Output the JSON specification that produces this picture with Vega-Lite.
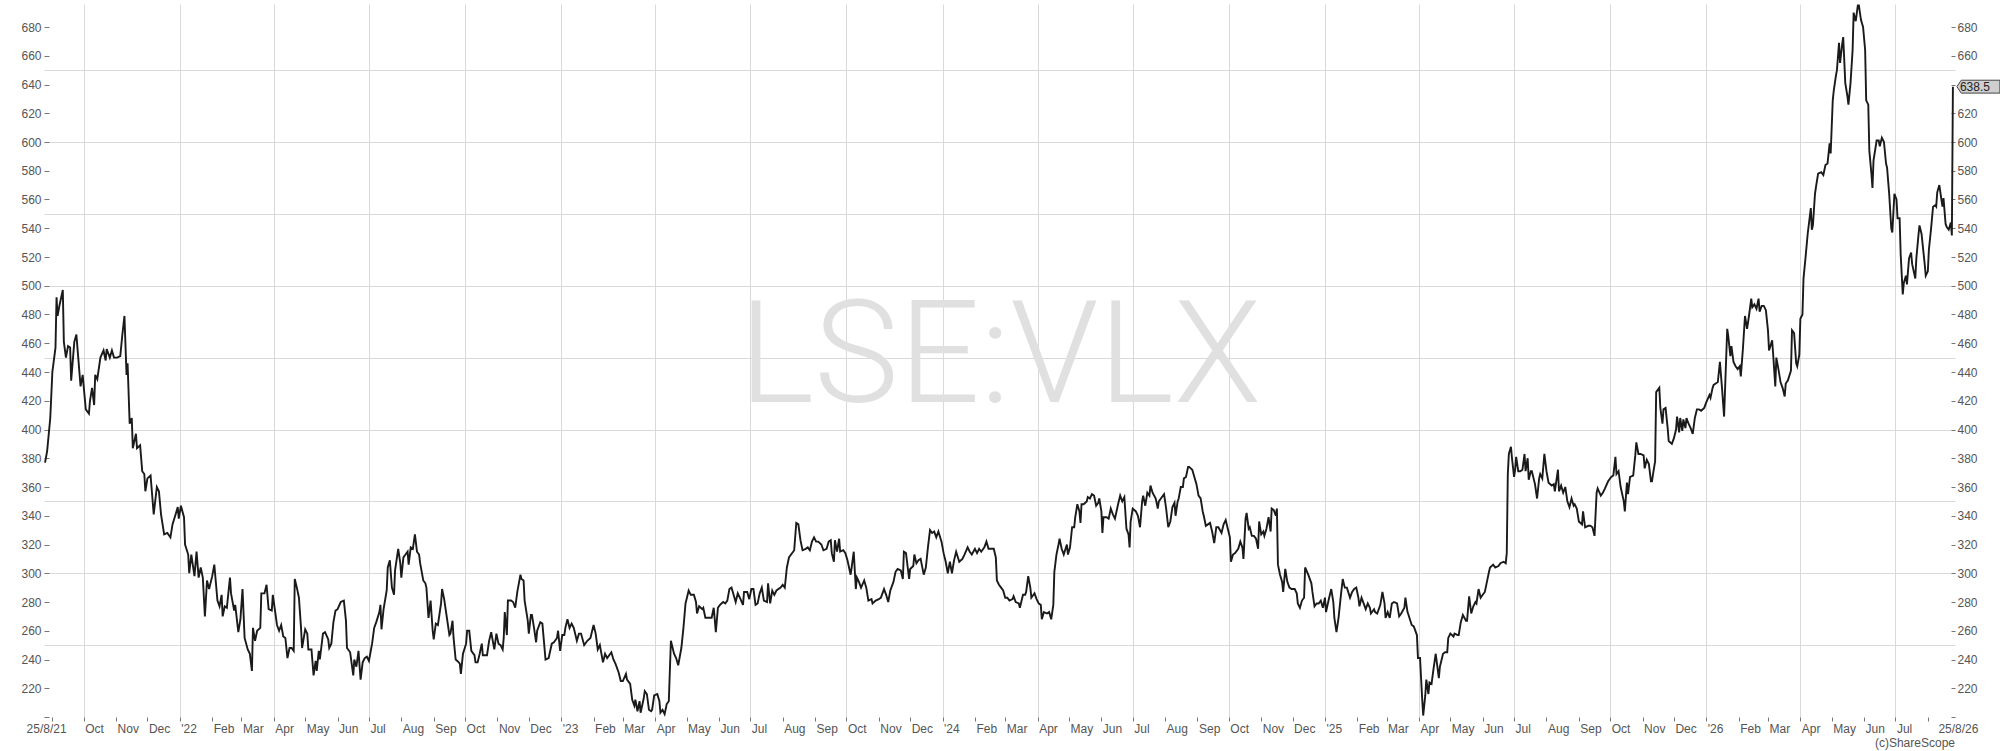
{
"$schema":"https://vega.github.io/schema/vega-lite/v6.json",
"width":1911,"height":713,
"autosize":{"type":"none"},
"padding":{"left":44,"top":4,"right":45,"bottom":34},
"background":"white",
"config":{"view":{"stroke":null},"font":"Liberation Sans"},
"title":{"text":"(c)ShareScope","orient":"bottom","anchor":"end","frame":"group","fontSize":12,"fontWeight":"normal","color":"#555555","font":"Liberation Sans","offset":4},
"datasets":{
"last":[{"d":"2026-08-25","v":638.5}],
"price":[
{"d":"2021-08-25","v":377},{"d":"2021-08-27","v":385},{"d":"2021-08-30","v":408},{"d":"2021-09-01","v":440},{"d":"2021-09-04","v":457},{"d":"2021-09-05","v":492},{"d":"2021-09-06","v":479},{"d":"2021-09-08","v":487},{"d":"2021-09-11","v":497},{"d":"2021-09-12","v":461},{"d":"2021-09-14","v":450},{"d":"2021-09-16","v":458},{"d":"2021-09-18","v":457},{"d":"2021-09-19","v":434},{"d":"2021-09-22","v":461},{"d":"2021-09-24","v":466},{"d":"2021-09-26","v":448},{"d":"2021-09-28","v":430},{"d":"2021-09-30","v":438},
{"d":"2021-10-03","v":414},{"d":"2021-10-06","v":411},{"d":"2021-10-07","v":420},{"d":"2021-10-09","v":429},{"d":"2021-10-11","v":417},{"d":"2021-10-12","v":438},{"d":"2021-10-14","v":435},{"d":"2021-10-17","v":450},{"d":"2021-10-20","v":455},{"d":"2021-10-22","v":448},{"d":"2021-10-23","v":456},{"d":"2021-10-26","v":450},{"d":"2021-10-28","v":455},{"d":"2021-10-30","v":450},
{"d":"2021-11-02","v":450},{"d":"2021-11-05","v":451},{"d":"2021-11-07","v":466},{"d":"2021-11-09","v":479},{"d":"2021-11-11","v":438},{"d":"2021-11-12","v":446},{"d":"2021-11-14","v":404},{"d":"2021-11-16","v":408},{"d":"2021-11-17","v":387},{"d":"2021-11-20","v":397},{"d":"2021-11-21","v":387},{"d":"2021-11-24","v":389},{"d":"2021-11-26","v":371},{"d":"2021-11-28","v":369},{"d":"2021-11-29","v":357},
{"d":"2021-12-01","v":366},{"d":"2021-12-04","v":368},{"d":"2021-12-07","v":341},{"d":"2021-12-10","v":360},{"d":"2021-12-12","v":357},{"d":"2021-12-14","v":341},{"d":"2021-12-17","v":327},{"d":"2021-12-20","v":328},{"d":"2021-12-23","v":325},{"d":"2021-12-25","v":334},{"d":"2021-12-28","v":341},{"d":"2021-12-30","v":346},{"d":"2021-12-31","v":338},
{"d":"2022-01-02","v":347},{"d":"2022-01-05","v":339},{"d":"2022-01-06","v":320},{"d":"2022-01-09","v":313},{"d":"2022-01-10","v":300},{"d":"2022-01-12","v":313},{"d":"2022-01-15","v":298},{"d":"2022-01-17","v":315},{"d":"2022-01-19","v":297},{"d":"2022-01-21","v":304},{"d":"2022-01-23","v":297},{"d":"2022-01-25","v":270},{"d":"2022-01-27","v":295},{"d":"2022-01-29","v":289},
{"d":"2022-02-01","v":298},{"d":"2022-02-03","v":306},{"d":"2022-02-06","v":281},{"d":"2022-02-08","v":277},{"d":"2022-02-10","v":285},{"d":"2022-02-11","v":270},{"d":"2022-02-13","v":277},{"d":"2022-02-15","v":276},{"d":"2022-02-18","v":297},{"d":"2022-02-19","v":286},{"d":"2022-02-22","v":274},{"d":"2022-02-23","v":278},{"d":"2022-02-26","v":259},{"d":"2022-02-28","v":268},
{"d":"2022-03-02","v":289},{"d":"2022-03-04","v":255},{"d":"2022-03-07","v":247},{"d":"2022-03-09","v":244},{"d":"2022-03-11","v":232},{"d":"2022-03-12","v":262},{"d":"2022-03-14","v":253},{"d":"2022-03-16","v":260},{"d":"2022-03-19","v":262},{"d":"2022-03-20","v":286},{"d":"2022-03-23","v":286},{"d":"2022-03-25","v":292},{"d":"2022-03-27","v":275},{"d":"2022-03-30","v":274},{"d":"2022-03-31","v":285},
{"d":"2022-04-04","v":264},{"d":"2022-04-06","v":260},{"d":"2022-04-08","v":264},{"d":"2022-04-10","v":256},{"d":"2022-04-12","v":255},{"d":"2022-04-14","v":241},{"d":"2022-04-16","v":248},{"d":"2022-04-18","v":248},{"d":"2022-04-20","v":246},{"d":"2022-04-21","v":296},{"d":"2022-04-23","v":290},{"d":"2022-04-25","v":283},{"d":"2022-04-27","v":262},{"d":"2022-04-28","v":248},
{"d":"2022-05-01","v":261},{"d":"2022-05-03","v":258},{"d":"2022-05-04","v":247},{"d":"2022-05-07","v":247},{"d":"2022-05-09","v":229},{"d":"2022-05-11","v":239},{"d":"2022-05-12","v":232},{"d":"2022-05-14","v":246},{"d":"2022-05-15","v":240},{"d":"2022-05-18","v":258},{"d":"2022-05-20","v":259},{"d":"2022-05-23","v":254},{"d":"2022-05-24","v":248},{"d":"2022-05-26","v":251},{"d":"2022-05-28","v":266},{"d":"2022-05-30","v":274},
{"d":"2022-06-01","v":275},{"d":"2022-06-04","v":280},{"d":"2022-06-07","v":281},{"d":"2022-06-09","v":267},{"d":"2022-06-10","v":248},{"d":"2022-06-13","v":245},{"d":"2022-06-16","v":229},{"d":"2022-06-17","v":240},{"d":"2022-06-19","v":235},{"d":"2022-06-21","v":246},{"d":"2022-06-23","v":226},{"d":"2022-06-25","v":238},{"d":"2022-06-27","v":241},{"d":"2022-06-29","v":242},{"d":"2022-07-01","v":239},
{"d":"2022-07-04","v":251},{"d":"2022-07-06","v":262},{"d":"2022-07-08","v":266},{"d":"2022-07-11","v":273},{"d":"2022-07-12","v":278},{"d":"2022-07-13","v":261},{"d":"2022-07-15","v":275},{"d":"2022-07-18","v":288},{"d":"2022-07-19","v":304},{"d":"2022-07-21","v":309},{"d":"2022-07-23","v":290},{"d":"2022-07-25","v":285},{"d":"2022-07-26","v":302},{"d":"2022-07-29","v":317},{"d":"2022-07-31","v":307},
{"d":"2022-08-01","v":297},{"d":"2022-08-03","v":311},{"d":"2022-08-05","v":313},{"d":"2022-08-07","v":315},{"d":"2022-08-08","v":306},{"d":"2022-08-10","v":318},{"d":"2022-08-12","v":317},{"d":"2022-08-14","v":327},{"d":"2022-08-16","v":315},{"d":"2022-08-18","v":313},{"d":"2022-08-19","v":307},{"d":"2022-08-22","v":295},{"d":"2022-08-24","v":293},{"d":"2022-08-25","v":290},{"d":"2022-08-27","v":269},{"d":"2022-08-29","v":281},{"d":"2022-08-31","v":260},
{"d":"2022-09-01","v":254},{"d":"2022-09-03","v":265},{"d":"2022-09-05","v":264},{"d":"2022-09-08","v":279},{"d":"2022-09-09","v":289},{"d":"2022-09-11","v":282},{"d":"2022-09-13","v":272},{"d":"2022-09-16","v":257},{"d":"2022-09-17","v":258},{"d":"2022-09-19","v":267},{"d":"2022-09-20","v":255},{"d":"2022-09-22","v":240},{"d":"2022-09-25","v":238},{"d":"2022-09-26","v":237},{"d":"2022-09-27","v":230},{"d":"2022-09-29","v":244},
{"d":"2022-10-02","v":251},{"d":"2022-10-03","v":260},{"d":"2022-10-05","v":260},{"d":"2022-10-07","v":246},{"d":"2022-10-10","v":243},{"d":"2022-10-11","v":238},{"d":"2022-10-13","v":238},{"d":"2022-10-15","v":244},{"d":"2022-10-17","v":251},{"d":"2022-10-18","v":243},{"d":"2022-10-22","v":243},{"d":"2022-10-24","v":253},{"d":"2022-10-26","v":259},{"d":"2022-10-27","v":255},{"d":"2022-10-29","v":247},{"d":"2022-10-31","v":258},
{"d":"2022-11-02","v":251},{"d":"2022-11-04","v":250},{"d":"2022-11-06","v":247},{"d":"2022-11-07","v":255},{"d":"2022-11-08","v":273},{"d":"2022-11-10","v":257},{"d":"2022-11-11","v":281},{"d":"2022-11-14","v":281},{"d":"2022-11-16","v":280},{"d":"2022-11-18","v":276},{"d":"2022-11-20","v":287},{"d":"2022-11-23","v":299},{"d":"2022-11-24","v":296},{"d":"2022-11-26","v":295},{"d":"2022-11-27","v":281},{"d":"2022-11-30","v":267},
{"d":"2022-12-01","v":258},{"d":"2022-12-03","v":271},{"d":"2022-12-04","v":271},{"d":"2022-12-06","v":262},{"d":"2022-12-08","v":252},{"d":"2022-12-09","v":260},{"d":"2022-12-12","v":266},{"d":"2022-12-14","v":265},{"d":"2022-12-17","v":240},{"d":"2022-12-20","v":241},{"d":"2022-12-23","v":251},{"d":"2022-12-25","v":252},{"d":"2022-12-28","v":255},{"d":"2022-12-29","v":260},{"d":"2022-12-31","v":246},
{"d":"2023-01-02","v":257},{"d":"2023-01-04","v":257},{"d":"2023-01-05","v":262},{"d":"2023-01-07","v":268},{"d":"2023-01-09","v":262},{"d":"2023-01-11","v":265},{"d":"2023-01-13","v":262},{"d":"2023-01-16","v":253},{"d":"2023-01-18","v":258},{"d":"2023-01-20","v":258},{"d":"2023-01-23","v":250},{"d":"2023-01-26","v":253},{"d":"2023-01-29","v":255},
{"d":"2023-02-01","v":264},{"d":"2023-02-03","v":258},{"d":"2023-02-05","v":247},{"d":"2023-02-07","v":250},{"d":"2023-02-10","v":238},{"d":"2023-02-12","v":244},{"d":"2023-02-14","v":241},{"d":"2023-02-18","v":245},{"d":"2023-02-20","v":240},{"d":"2023-02-22","v":237},{"d":"2023-02-25","v":231},{"d":"2023-02-27","v":225},
{"d":"2023-03-01","v":225},{"d":"2023-03-04","v":230},{"d":"2023-03-05","v":226},{"d":"2023-03-08","v":223},{"d":"2023-03-10","v":212},{"d":"2023-03-12","v":208},{"d":"2023-03-13","v":212},{"d":"2023-03-15","v":204},{"d":"2023-03-17","v":211},{"d":"2023-03-18","v":203},{"d":"2023-03-21","v":213},{"d":"2023-03-22","v":218},{"d":"2023-03-24","v":216},{"d":"2023-03-26","v":205},{"d":"2023-03-28","v":204},{"d":"2023-03-29","v":205},{"d":"2023-03-31","v":215},
{"d":"2023-04-03","v":216},{"d":"2023-04-05","v":211},{"d":"2023-04-06","v":203},{"d":"2023-04-08","v":205},{"d":"2023-04-10","v":202},{"d":"2023-04-12","v":209},{"d":"2023-04-14","v":211},{"d":"2023-04-16","v":253},{"d":"2023-04-19","v":244},{"d":"2023-04-21","v":241},{"d":"2023-04-23","v":236},{"d":"2023-04-26","v":248},{"d":"2023-04-28","v":262},{"d":"2023-04-30","v":279},
{"d":"2023-05-03","v":288},{"d":"2023-05-05","v":285},{"d":"2023-05-08","v":285},{"d":"2023-05-10","v":280},{"d":"2023-05-11","v":272},{"d":"2023-05-13","v":277},{"d":"2023-05-16","v":275},{"d":"2023-05-17","v":276},{"d":"2023-05-19","v":269},{"d":"2023-05-22","v":269},{"d":"2023-05-25","v":269},{"d":"2023-05-27","v":276},{"d":"2023-05-29","v":259},{"d":"2023-05-31","v":276},
{"d":"2023-06-02","v":278},{"d":"2023-06-05","v":280},{"d":"2023-06-07","v":279},{"d":"2023-06-09","v":281},{"d":"2023-06-11","v":289},{"d":"2023-06-13","v":290},{"d":"2023-06-15","v":285},{"d":"2023-06-17","v":280},{"d":"2023-06-19","v":286},{"d":"2023-06-21","v":283},{"d":"2023-06-24","v":278},{"d":"2023-06-25","v":287},{"d":"2023-06-28","v":287},{"d":"2023-06-30","v":282},
{"d":"2023-07-02","v":289},{"d":"2023-07-04","v":289},{"d":"2023-07-06","v":278},{"d":"2023-07-08","v":279},{"d":"2023-07-10","v":286},{"d":"2023-07-12","v":290},{"d":"2023-07-14","v":281},{"d":"2023-07-17","v":280},{"d":"2023-07-18","v":293},{"d":"2023-07-20","v":279},{"d":"2023-07-22","v":288},{"d":"2023-07-24","v":285},{"d":"2023-07-26","v":288},{"d":"2023-07-30","v":290},
{"d":"2023-08-01","v":292},{"d":"2023-08-03","v":290},{"d":"2023-08-05","v":304},{"d":"2023-08-07","v":311},{"d":"2023-08-09","v":313},{"d":"2023-08-11","v":315},{"d":"2023-08-12","v":316},{"d":"2023-08-14","v":335},{"d":"2023-08-16","v":334},{"d":"2023-08-18","v":323},{"d":"2023-08-20","v":316},{"d":"2023-08-23","v":317},{"d":"2023-08-25","v":318},{"d":"2023-08-27","v":316},{"d":"2023-08-29","v":322},{"d":"2023-08-31","v":325},
{"d":"2023-09-02","v":322},{"d":"2023-09-04","v":322},{"d":"2023-09-07","v":320},{"d":"2023-09-09","v":316},{"d":"2023-09-12","v":317},{"d":"2023-09-14","v":322},{"d":"2023-09-16","v":323},{"d":"2023-09-17","v":314},{"d":"2023-09-19","v":308},{"d":"2023-09-20","v":323},{"d":"2023-09-22","v":315},{"d":"2023-09-24","v":324},{"d":"2023-09-25","v":315},{"d":"2023-09-28","v":316},{"d":"2023-09-30","v":314},
{"d":"2023-10-02","v":309},{"d":"2023-10-05","v":299},{"d":"2023-10-06","v":304},{"d":"2023-10-08","v":315},{"d":"2023-10-10","v":289},{"d":"2023-10-11","v":297},{"d":"2023-10-13","v":294},{"d":"2023-10-15","v":290},{"d":"2023-10-18","v":295},{"d":"2023-10-20","v":290},{"d":"2023-10-22","v":281},{"d":"2023-10-25","v":282},{"d":"2023-10-26","v":279},{"d":"2023-10-29","v":281},
{"d":"2023-11-01","v":282},{"d":"2023-11-03","v":283},{"d":"2023-11-06","v":289},{"d":"2023-11-08","v":285},{"d":"2023-11-10","v":280},{"d":"2023-11-12","v":288},{"d":"2023-11-15","v":294},{"d":"2023-11-17","v":301},{"d":"2023-11-19","v":303},{"d":"2023-11-22","v":302},{"d":"2023-11-24","v":296},{"d":"2023-11-25","v":315},{"d":"2023-11-27","v":314},{"d":"2023-11-30","v":296},
{"d":"2023-12-01","v":303},{"d":"2023-12-04","v":305},{"d":"2023-12-05","v":313},{"d":"2023-12-07","v":307},{"d":"2023-12-09","v":309},{"d":"2023-12-11","v":310},{"d":"2023-12-14","v":299},{"d":"2023-12-16","v":304},{"d":"2023-12-18","v":318},{"d":"2023-12-20","v":330},{"d":"2023-12-22","v":328},{"d":"2023-12-24","v":329},{"d":"2023-12-26","v":325},{"d":"2023-12-28","v":329},{"d":"2023-12-31","v":322},
{"d":"2024-01-02","v":314},{"d":"2024-01-04","v":308},{"d":"2024-01-06","v":300},{"d":"2024-01-08","v":308},{"d":"2024-01-10","v":300},{"d":"2024-01-12","v":309},{"d":"2024-01-14","v":315},{"d":"2024-01-17","v":308},{"d":"2024-01-20","v":310},{"d":"2024-01-22","v":313},{"d":"2024-01-25","v":318},{"d":"2024-01-27","v":315},{"d":"2024-01-29","v":313},
{"d":"2024-02-01","v":317},{"d":"2024-02-03","v":314},{"d":"2024-02-05","v":317},{"d":"2024-02-07","v":315},{"d":"2024-02-10","v":318},{"d":"2024-02-12","v":322},{"d":"2024-02-14","v":317},{"d":"2024-02-17","v":317},{"d":"2024-02-19","v":317},{"d":"2024-02-21","v":311},{"d":"2024-02-22","v":295},{"d":"2024-02-24","v":292},{"d":"2024-02-26","v":290},{"d":"2024-02-28","v":288},
{"d":"2024-03-01","v":283},{"d":"2024-03-03","v":283},{"d":"2024-03-05","v":281},{"d":"2024-03-08","v":282},{"d":"2024-03-09","v":284},{"d":"2024-03-11","v":280},{"d":"2024-03-14","v":279},{"d":"2024-03-15","v":276},{"d":"2024-03-18","v":285},{"d":"2024-03-20","v":285},{"d":"2024-03-21","v":287},{"d":"2024-03-23","v":298},{"d":"2024-03-25","v":290},{"d":"2024-03-26","v":283},{"d":"2024-03-28","v":285},{"d":"2024-03-29","v":286},{"d":"2024-03-31","v":282},
{"d":"2024-04-02","v":279},{"d":"2024-04-04","v":278},{"d":"2024-04-05","v":268},{"d":"2024-04-07","v":273},{"d":"2024-04-10","v":272},{"d":"2024-04-12","v":273},{"d":"2024-04-14","v":268},{"d":"2024-04-16","v":278},{"d":"2024-04-17","v":301},{"d":"2024-04-19","v":313},{"d":"2024-04-21","v":320},{"d":"2024-04-22","v":324},{"d":"2024-04-24","v":317},{"d":"2024-04-26","v":313},{"d":"2024-04-29","v":320},{"d":"2024-04-30","v":313},
{"d":"2024-05-02","v":318},{"d":"2024-05-04","v":332},{"d":"2024-05-06","v":332},{"d":"2024-05-07","v":339},{"d":"2024-05-09","v":348},{"d":"2024-05-11","v":343},{"d":"2024-05-12","v":335},{"d":"2024-05-13","v":348},{"d":"2024-05-15","v":348},{"d":"2024-05-18","v":350},{"d":"2024-05-19","v":353},{"d":"2024-05-21","v":352},{"d":"2024-05-23","v":355},{"d":"2024-05-25","v":354},{"d":"2024-05-27","v":347},{"d":"2024-05-29","v":349},{"d":"2024-05-30","v":352},
{"d":"2024-06-01","v":343},{"d":"2024-06-02","v":328},{"d":"2024-06-03","v":339},{"d":"2024-06-06","v":339},{"d":"2024-06-08","v":338},{"d":"2024-06-10","v":345},{"d":"2024-06-12","v":341},{"d":"2024-06-14","v":338},{"d":"2024-06-17","v":348},{"d":"2024-06-19","v":354},{"d":"2024-06-21","v":350},{"d":"2024-06-23","v":353},{"d":"2024-06-25","v":331},{"d":"2024-06-27","v":327},{"d":"2024-06-28","v":318},{"d":"2024-06-29","v":336},
{"d":"2024-07-01","v":345},{"d":"2024-07-04","v":343},{"d":"2024-07-06","v":340},{"d":"2024-07-08","v":332},{"d":"2024-07-10","v":350},{"d":"2024-07-11","v":354},{"d":"2024-07-13","v":347},{"d":"2024-07-15","v":356},{"d":"2024-07-17","v":354},{"d":"2024-07-18","v":361},{"d":"2024-07-20","v":356},{"d":"2024-07-23","v":352},{"d":"2024-07-25","v":345},{"d":"2024-07-26","v":350},{"d":"2024-07-29","v":353},{"d":"2024-07-31","v":355},
{"d":"2024-08-02","v":345},{"d":"2024-08-04","v":332},{"d":"2024-08-06","v":336},{"d":"2024-08-08","v":346},{"d":"2024-08-10","v":349},{"d":"2024-08-11","v":340},{"d":"2024-08-13","v":350},{"d":"2024-08-14","v":352},{"d":"2024-08-16","v":360},{"d":"2024-08-18","v":360},{"d":"2024-08-19","v":366},{"d":"2024-08-21","v":367},{"d":"2024-08-23","v":374},{"d":"2024-08-24","v":374},{"d":"2024-08-27","v":372},{"d":"2024-08-29","v":367},{"d":"2024-08-31","v":362},
{"d":"2024-09-02","v":354},{"d":"2024-09-04","v":352},{"d":"2024-09-06","v":343},{"d":"2024-09-07","v":340},{"d":"2024-09-09","v":333},{"d":"2024-09-11","v":334},{"d":"2024-09-13","v":335},{"d":"2024-09-15","v":329},{"d":"2024-09-17","v":321},{"d":"2024-09-19","v":332},{"d":"2024-09-21","v":332},{"d":"2024-09-24","v":328},{"d":"2024-09-26","v":334},{"d":"2024-09-28","v":337},{"d":"2024-09-30","v":331},
{"d":"2024-10-02","v":325},{"d":"2024-10-03","v":308},{"d":"2024-10-05","v":313},{"d":"2024-10-07","v":314},{"d":"2024-10-10","v":317},{"d":"2024-10-12","v":322},{"d":"2024-10-14","v":318},{"d":"2024-10-15","v":310},{"d":"2024-10-17","v":338},{"d":"2024-10-18","v":342},{"d":"2024-10-20","v":331},{"d":"2024-10-21","v":332},{"d":"2024-10-23","v":326},{"d":"2024-10-25","v":326},{"d":"2024-10-27","v":324},{"d":"2024-10-29","v":317},{"d":"2024-10-30","v":336},
{"d":"2024-11-01","v":327},{"d":"2024-11-03","v":329},{"d":"2024-11-04","v":326},{"d":"2024-11-06","v":331},{"d":"2024-11-08","v":339},{"d":"2024-11-10","v":329},{"d":"2024-11-11","v":345},{"d":"2024-11-13","v":344},{"d":"2024-11-15","v":340},{"d":"2024-11-16","v":345},{"d":"2024-11-17","v":306},{"d":"2024-11-19","v":299},{"d":"2024-11-21","v":294},{"d":"2024-11-22","v":287},{"d":"2024-11-24","v":303},{"d":"2024-11-26","v":294},{"d":"2024-11-28","v":290},{"d":"2024-11-30","v":289},
{"d":"2024-12-03","v":289},{"d":"2024-12-05","v":286},{"d":"2024-12-06","v":279},{"d":"2024-12-08","v":276},{"d":"2024-12-10","v":281},{"d":"2024-12-12","v":283},{"d":"2024-12-13","v":304},{"d":"2024-12-16","v":299},{"d":"2024-12-19","v":293},{"d":"2024-12-20","v":287},{"d":"2024-12-22","v":277},{"d":"2024-12-24","v":279},{"d":"2024-12-26","v":279},{"d":"2024-12-28","v":281},{"d":"2024-12-30","v":276},
{"d":"2025-01-01","v":283},{"d":"2025-01-02","v":273},{"d":"2025-01-05","v":283},{"d":"2025-01-07","v":289},{"d":"2025-01-09","v":280},{"d":"2025-01-10","v":269},{"d":"2025-01-12","v":259},{"d":"2025-01-14","v":269},{"d":"2025-01-16","v":283},{"d":"2025-01-18","v":296},{"d":"2025-01-20","v":290},{"d":"2025-01-22","v":290},{"d":"2025-01-25","v":283},{"d":"2025-01-27","v":287},{"d":"2025-01-29","v":289},{"d":"2025-01-31","v":290},
{"d":"2025-02-02","v":283},{"d":"2025-02-03","v":277},{"d":"2025-02-05","v":283},{"d":"2025-02-07","v":279},{"d":"2025-02-09","v":275},{"d":"2025-02-11","v":279},{"d":"2025-02-13","v":276},{"d":"2025-02-14","v":272},{"d":"2025-02-17","v":275},{"d":"2025-02-18","v":273},{"d":"2025-02-20","v":272},{"d":"2025-02-23","v":278},{"d":"2025-02-25","v":287},{"d":"2025-02-27","v":279},{"d":"2025-02-28","v":269},
{"d":"2025-03-02","v":273},{"d":"2025-03-04","v":269},{"d":"2025-03-06","v":279},{"d":"2025-03-08","v":280},{"d":"2025-03-11","v":279},{"d":"2025-03-13","v":270},{"d":"2025-03-15","v":272},{"d":"2025-03-18","v":276},{"d":"2025-03-19","v":283},{"d":"2025-03-21","v":273},{"d":"2025-03-22","v":271},{"d":"2025-03-25","v":264},{"d":"2025-03-27","v":263},{"d":"2025-03-30","v":257},{"d":"2025-03-31","v":241},
{"d":"2025-04-02","v":241},{"d":"2025-04-03","v":227},{"d":"2025-04-04","v":213},{"d":"2025-04-05","v":201},{"d":"2025-04-07","v":215},{"d":"2025-04-08","v":226},{"d":"2025-04-10","v":216},{"d":"2025-04-11","v":224},{"d":"2025-04-13","v":223},{"d":"2025-04-15","v":234},{"d":"2025-04-17","v":244},{"d":"2025-04-20","v":227},{"d":"2025-04-21","v":235},{"d":"2025-04-24","v":244},{"d":"2025-04-26","v":245},{"d":"2025-04-28","v":245},{"d":"2025-04-29","v":255},
{"d":"2025-05-01","v":258},{"d":"2025-05-04","v":256},{"d":"2025-05-05","v":258},{"d":"2025-05-08","v":257},{"d":"2025-05-09","v":257},{"d":"2025-05-11","v":266},{"d":"2025-05-13","v":271},{"d":"2025-05-16","v":267},{"d":"2025-05-17","v":267},{"d":"2025-05-19","v":284},{"d":"2025-05-21","v":272},{"d":"2025-05-23","v":277},{"d":"2025-05-25","v":280},{"d":"2025-05-26","v":279},{"d":"2025-05-28","v":289},{"d":"2025-05-30","v":283},
{"d":"2025-06-01","v":285},{"d":"2025-06-03","v":287},{"d":"2025-06-05","v":294},{"d":"2025-06-07","v":301},{"d":"2025-06-08","v":304},{"d":"2025-06-11","v":306},{"d":"2025-06-13","v":304},{"d":"2025-06-16","v":305},{"d":"2025-06-18","v":307},{"d":"2025-06-21","v":308},{"d":"2025-06-23","v":307},{"d":"2025-06-24","v":314},{"d":"2025-06-25","v":369},{"d":"2025-06-26","v":383},{"d":"2025-06-28","v":388},{"d":"2025-06-29","v":380},
{"d":"2025-07-01","v":367},{"d":"2025-07-02","v":372},{"d":"2025-07-03","v":381},{"d":"2025-07-05","v":371},{"d":"2025-07-07","v":371},{"d":"2025-07-09","v":372},{"d":"2025-07-11","v":383},{"d":"2025-07-12","v":371},{"d":"2025-07-14","v":380},{"d":"2025-07-15","v":365},{"d":"2025-07-17","v":371},{"d":"2025-07-18","v":371},{"d":"2025-07-21","v":362},{"d":"2025-07-23","v":352},{"d":"2025-07-25","v":366},{"d":"2025-07-26","v":369},{"d":"2025-07-28","v":366},{"d":"2025-07-30","v":383},
{"d":"2025-08-01","v":371},{"d":"2025-08-03","v":363},{"d":"2025-08-06","v":361},{"d":"2025-08-08","v":362},{"d":"2025-08-09","v":357},{"d":"2025-08-12","v":372},{"d":"2025-08-13","v":357},{"d":"2025-08-15","v":361},{"d":"2025-08-17","v":356},{"d":"2025-08-19","v":360},{"d":"2025-08-21","v":350},{"d":"2025-08-23","v":346},{"d":"2025-08-25","v":352},{"d":"2025-08-27","v":347},{"d":"2025-08-28","v":348},{"d":"2025-08-30","v":345},
{"d":"2025-09-01","v":336},{"d":"2025-09-04","v":334},{"d":"2025-09-05","v":343},{"d":"2025-09-07","v":332},{"d":"2025-09-10","v":333},{"d":"2025-09-12","v":333},{"d":"2025-09-14","v":332},{"d":"2025-09-16","v":326},{"d":"2025-09-18","v":356},{"d":"2025-09-19","v":359},{"d":"2025-09-22","v":354},{"d":"2025-09-24","v":356},{"d":"2025-09-26","v":359},{"d":"2025-09-29","v":364},
{"d":"2025-10-02","v":367},{"d":"2025-10-04","v":368},{"d":"2025-10-06","v":381},{"d":"2025-10-07","v":369},{"d":"2025-10-09","v":371},{"d":"2025-10-11","v":360},{"d":"2025-10-14","v":350},{"d":"2025-10-15","v":343},{"d":"2025-10-17","v":363},{"d":"2025-10-18","v":355},{"d":"2025-10-20","v":367},{"d":"2025-10-23","v":368},{"d":"2025-10-25","v":382},{"d":"2025-10-26","v":391},{"d":"2025-10-28","v":383},{"d":"2025-10-30","v":383},
{"d":"2025-11-02","v":382},{"d":"2025-11-03","v":373},{"d":"2025-11-05","v":379},{"d":"2025-11-07","v":376},{"d":"2025-11-09","v":364},{"d":"2025-11-10","v":364},{"d":"2025-11-11","v":369},{"d":"2025-11-13","v":378},{"d":"2025-11-14","v":426},{"d":"2025-11-17","v":429},{"d":"2025-11-18","v":415},{"d":"2025-11-20","v":404},{"d":"2025-11-21","v":414},{"d":"2025-11-23","v":415},{"d":"2025-11-25","v":401},{"d":"2025-11-26","v":392},{"d":"2025-11-29","v":390},
{"d":"2025-12-01","v":394},{"d":"2025-12-03","v":400},{"d":"2025-12-04","v":409},{"d":"2025-12-06","v":398},{"d":"2025-12-07","v":408},{"d":"2025-12-09","v":399},{"d":"2025-12-10","v":407},{"d":"2025-12-12","v":401},{"d":"2025-12-13","v":408},{"d":"2025-12-15","v":404},{"d":"2025-12-17","v":401},{"d":"2025-12-19","v":397},{"d":"2025-12-21","v":408},{"d":"2025-12-23","v":414},{"d":"2025-12-25","v":414},{"d":"2025-12-27","v":413},{"d":"2025-12-30","v":415},
{"d":"2026-01-01","v":419},{"d":"2026-01-04","v":424},{"d":"2026-01-05","v":422},{"d":"2026-01-07","v":429},{"d":"2026-01-08","v":431},{"d":"2026-01-10","v":432},{"d":"2026-01-12","v":433},{"d":"2026-01-14","v":447},{"d":"2026-01-16","v":429},{"d":"2026-01-18","v":409},{"d":"2026-01-21","v":470},{"d":"2026-01-22","v":465},{"d":"2026-01-24","v":451},{"d":"2026-01-25","v":458},{"d":"2026-01-27","v":447},{"d":"2026-01-29","v":444},{"d":"2026-01-31","v":442},
{"d":"2026-02-02","v":444},{"d":"2026-02-03","v":437},{"d":"2026-02-05","v":456},{"d":"2026-02-07","v":479},{"d":"2026-02-09","v":470},{"d":"2026-02-11","v":480},{"d":"2026-02-13","v":491},{"d":"2026-02-14","v":485},{"d":"2026-02-16","v":487},{"d":"2026-02-18","v":484},{"d":"2026-02-20","v":491},{"d":"2026-02-21","v":482},{"d":"2026-02-23","v":486},{"d":"2026-02-25","v":486},{"d":"2026-02-27","v":483},
{"d":"2026-03-01","v":469},{"d":"2026-03-02","v":455},{"d":"2026-03-05","v":462},{"d":"2026-03-06","v":452},{"d":"2026-03-08","v":430},{"d":"2026-03-09","v":450},{"d":"2026-03-11","v":442},{"d":"2026-03-13","v":433},{"d":"2026-03-15","v":429},{"d":"2026-03-17","v":423},{"d":"2026-03-18","v":432},{"d":"2026-03-20","v":434},{"d":"2026-03-23","v":441},{"d":"2026-03-24","v":469},{"d":"2026-03-26","v":467},{"d":"2026-03-28","v":446},{"d":"2026-03-29","v":444},{"d":"2026-03-31","v":452},
{"d":"2026-04-01","v":477},{"d":"2026-04-03","v":480},{"d":"2026-04-04","v":505},{"d":"2026-04-06","v":520},{"d":"2026-04-08","v":536},{"d":"2026-04-11","v":554},{"d":"2026-04-12","v":539},{"d":"2026-04-13","v":542},{"d":"2026-04-15","v":564},{"d":"2026-04-16","v":569},{"d":"2026-04-18","v":578},{"d":"2026-04-21","v":579},{"d":"2026-04-23","v":577},{"d":"2026-04-25","v":584},{"d":"2026-04-27","v":585},{"d":"2026-04-29","v":599},{"d":"2026-04-30","v":592},
{"d":"2026-05-02","v":629},{"d":"2026-05-03","v":636},{"d":"2026-05-05","v":646},{"d":"2026-05-06","v":650},{"d":"2026-05-08","v":669},{"d":"2026-05-09","v":655},{"d":"2026-05-11","v":668},{"d":"2026-05-12","v":673},{"d":"2026-05-14","v":641},{"d":"2026-05-16","v":632},{"d":"2026-05-17","v":626},{"d":"2026-05-19","v":641},{"d":"2026-05-21","v":664},{"d":"2026-05-22","v":690},{"d":"2026-05-24","v":684},{"d":"2026-05-26","v":695},{"d":"2026-05-27","v":695},{"d":"2026-05-29","v":685},{"d":"2026-05-31","v":680},
{"d":"2026-06-02","v":664},{"d":"2026-06-03","v":629},{"d":"2026-06-05","v":626},{"d":"2026-06-06","v":594},{"d":"2026-06-08","v":578},{"d":"2026-06-09","v":568},{"d":"2026-06-10","v":587},{"d":"2026-06-13","v":601},{"d":"2026-06-15","v":601},{"d":"2026-06-16","v":597},{"d":"2026-06-18","v":603},{"d":"2026-06-20","v":600},{"d":"2026-06-22","v":585},{"d":"2026-06-23","v":582},{"d":"2026-06-25","v":564},{"d":"2026-06-27","v":540},{"d":"2026-06-28","v":537},{"d":"2026-06-30","v":564},
{"d":"2026-07-02","v":560},{"d":"2026-07-03","v":547},{"d":"2026-07-05","v":547},{"d":"2026-07-06","v":522},{"d":"2026-07-08","v":494},{"d":"2026-07-09","v":502},{"d":"2026-07-11","v":507},{"d":"2026-07-12","v":501},{"d":"2026-07-14","v":519},{"d":"2026-07-16","v":523},{"d":"2026-07-17","v":515},{"d":"2026-07-20","v":505},{"d":"2026-07-21","v":519},{"d":"2026-07-23","v":535},{"d":"2026-07-24","v":542},{"d":"2026-07-26","v":536},{"d":"2026-07-27","v":529},{"d":"2026-07-29","v":515},{"d":"2026-07-30","v":507},
{"d":"2026-08-01","v":510},{"d":"2026-08-02","v":525},{"d":"2026-08-04","v":539},{"d":"2026-08-06","v":555},{"d":"2026-08-08","v":556},{"d":"2026-08-09","v":555},{"d":"2026-08-10","v":565},{"d":"2026-08-12","v":570},{"d":"2026-08-14","v":560},{"d":"2026-08-15","v":555},{"d":"2026-08-16","v":561},{"d":"2026-08-18","v":543},{"d":"2026-08-19","v":541},{"d":"2026-08-21","v":539},{"d":"2026-08-23","v":544},{"d":"2026-08-24","v":535},{"d":"2026-08-25","v":638.5}
]},
"layer":[
{"data":{"values":[{}]},
 "mark":{"type":"text","text":"LSE:VLX","font":"Roboto","fontWeight":300,"fontSize":143,"color":"#e0e0e0","align":"center","baseline":"alphabetic"},
 "encoding":{
  "x":{"datum":{"year":2024,"month":2,"date":25},"type":"temporal","scale":{"domain":[{"year":2021,"month":8,"date":24},{"year":2026,"month":8,"date":27}]},
   "axis":{"orient":"bottom","title":null,"domain":false,"tickSize":4,"tickColor":"#777777","labelColor":"#555555","labelFont":"Liberation Sans","labelFontSize":12,"labelPadding":2,"labelOverlap":false,"labelBound":false,"labelFlush":false,"labelBaseline":"top",
    "labelAlign":{"condition":{"test":"date(datum.value)==25","value":"center"},"value":"left"},
    "labelOffset":{"condition":{"test":"date(datum.value)==25 && year(datum.value)==2026","value":5},"value":1},
    "tickOpacity":{"condition":{"test":"date(datum.value)==25","value":0},"value":1},
    "grid":true,"gridColor":"#d9d9d9","gridWidth":1,
    "gridOpacity":{"condition":{"test":"month(datum.value)%3==0 && date(datum.value)==1","value":1},"value":0},
    "labelExpr":"date(datum.value)==25 ? timeFormat(datum.value,'%-d/%-m/%y') : ((year(datum.value)==2021 && month(datum.value)==8) || (year(datum.value)==2026 && month(datum.value)==7)) ? '' : month(datum.value)==0 ? \"'\" + timeFormat(datum.value,'%y') : timeFormat(datum.value,'%b')",
    "values":[{"year":2021,"month":8,"date":25},{"year":2021,"month":9,"date":1},{"year":2021,"month":10,"date":1},{"year":2021,"month":11,"date":1},{"year":2021,"month":12,"date":1},
     {"year":2022,"month":1,"date":1},{"year":2022,"month":2,"date":1},{"year":2022,"month":3,"date":1},{"year":2022,"month":4,"date":1},{"year":2022,"month":5,"date":1},{"year":2022,"month":6,"date":1},{"year":2022,"month":7,"date":1},{"year":2022,"month":8,"date":1},{"year":2022,"month":9,"date":1},{"year":2022,"month":10,"date":1},{"year":2022,"month":11,"date":1},{"year":2022,"month":12,"date":1},
     {"year":2023,"month":1,"date":1},{"year":2023,"month":2,"date":1},{"year":2023,"month":3,"date":1},{"year":2023,"month":4,"date":1},{"year":2023,"month":5,"date":1},{"year":2023,"month":6,"date":1},{"year":2023,"month":7,"date":1},{"year":2023,"month":8,"date":1},{"year":2023,"month":9,"date":1},{"year":2023,"month":10,"date":1},{"year":2023,"month":11,"date":1},{"year":2023,"month":12,"date":1},
     {"year":2024,"month":1,"date":1},{"year":2024,"month":2,"date":1},{"year":2024,"month":3,"date":1},{"year":2024,"month":4,"date":1},{"year":2024,"month":5,"date":1},{"year":2024,"month":6,"date":1},{"year":2024,"month":7,"date":1},{"year":2024,"month":8,"date":1},{"year":2024,"month":9,"date":1},{"year":2024,"month":10,"date":1},{"year":2024,"month":11,"date":1},{"year":2024,"month":12,"date":1},
     {"year":2025,"month":1,"date":1},{"year":2025,"month":2,"date":1},{"year":2025,"month":3,"date":1},{"year":2025,"month":4,"date":1},{"year":2025,"month":5,"date":1},{"year":2025,"month":6,"date":1},{"year":2025,"month":7,"date":1},{"year":2025,"month":8,"date":1},{"year":2025,"month":9,"date":1},{"year":2025,"month":10,"date":1},{"year":2025,"month":11,"date":1},{"year":2025,"month":12,"date":1},
     {"year":2026,"month":1,"date":1},{"year":2026,"month":2,"date":1},{"year":2026,"month":3,"date":1},{"year":2026,"month":4,"date":1},{"year":2026,"month":5,"date":1},{"year":2026,"month":6,"date":1},{"year":2026,"month":7,"date":1},{"year":2026,"month":8,"date":1},{"year":2026,"month":8,"date":25}]}},
  "y":{"datum":419,"type":"quantitative","scale":{"domain":[200,696],"nice":false,"zero":false},"axis":null}
 }},
{"encoding":{
  "x":{"field":"d","type":"temporal","scale":{"domain":[{"year":2021,"month":8,"date":24},{"year":2026,"month":8,"date":27}]},
   "axis":{"orient":"bottom","title":null,"domain":false,"tickSize":4,"tickColor":"#777777","labelColor":"#555555","labelFont":"Liberation Sans","labelFontSize":12,"labelPadding":2,"labelOverlap":false,"labelBound":false,"labelFlush":false,"labelBaseline":"top",
    "labelAlign":{"condition":{"test":"date(datum.value)==25","value":"center"},"value":"left"},
    "labelOffset":{"condition":{"test":"date(datum.value)==25 && year(datum.value)==2026","value":5},"value":1},
    "tickOpacity":{"condition":{"test":"date(datum.value)==25","value":0},"value":1},
    "grid":true,"gridColor":"#d9d9d9","gridWidth":1,
    "gridOpacity":{"condition":{"test":"month(datum.value)%3==0 && date(datum.value)==1","value":1},"value":0},
    "labelExpr":"date(datum.value)==25 ? timeFormat(datum.value,'%-d/%-m/%y') : ((year(datum.value)==2021 && month(datum.value)==8) || (year(datum.value)==2026 && month(datum.value)==7)) ? '' : month(datum.value)==0 ? \"'\" + timeFormat(datum.value,'%y') : timeFormat(datum.value,'%b')",
    "values":[{"year":2021,"month":8,"date":25},{"year":2021,"month":9,"date":1},{"year":2021,"month":10,"date":1},{"year":2021,"month":11,"date":1},{"year":2021,"month":12,"date":1},
     {"year":2022,"month":1,"date":1},{"year":2022,"month":2,"date":1},{"year":2022,"month":3,"date":1},{"year":2022,"month":4,"date":1},{"year":2022,"month":5,"date":1},{"year":2022,"month":6,"date":1},{"year":2022,"month":7,"date":1},{"year":2022,"month":8,"date":1},{"year":2022,"month":9,"date":1},{"year":2022,"month":10,"date":1},{"year":2022,"month":11,"date":1},{"year":2022,"month":12,"date":1},
     {"year":2023,"month":1,"date":1},{"year":2023,"month":2,"date":1},{"year":2023,"month":3,"date":1},{"year":2023,"month":4,"date":1},{"year":2023,"month":5,"date":1},{"year":2023,"month":6,"date":1},{"year":2023,"month":7,"date":1},{"year":2023,"month":8,"date":1},{"year":2023,"month":9,"date":1},{"year":2023,"month":10,"date":1},{"year":2023,"month":11,"date":1},{"year":2023,"month":12,"date":1},
     {"year":2024,"month":1,"date":1},{"year":2024,"month":2,"date":1},{"year":2024,"month":3,"date":1},{"year":2024,"month":4,"date":1},{"year":2024,"month":5,"date":1},{"year":2024,"month":6,"date":1},{"year":2024,"month":7,"date":1},{"year":2024,"month":8,"date":1},{"year":2024,"month":9,"date":1},{"year":2024,"month":10,"date":1},{"year":2024,"month":11,"date":1},{"year":2024,"month":12,"date":1},
     {"year":2025,"month":1,"date":1},{"year":2025,"month":2,"date":1},{"year":2025,"month":3,"date":1},{"year":2025,"month":4,"date":1},{"year":2025,"month":5,"date":1},{"year":2025,"month":6,"date":1},{"year":2025,"month":7,"date":1},{"year":2025,"month":8,"date":1},{"year":2025,"month":9,"date":1},{"year":2025,"month":10,"date":1},{"year":2025,"month":11,"date":1},{"year":2025,"month":12,"date":1},
     {"year":2026,"month":1,"date":1},{"year":2026,"month":2,"date":1},{"year":2026,"month":3,"date":1},{"year":2026,"month":4,"date":1},{"year":2026,"month":5,"date":1},{"year":2026,"month":6,"date":1},{"year":2026,"month":7,"date":1},{"year":2026,"month":8,"date":1},{"year":2026,"month":8,"date":25}]}}
 },
 "layer":[
  {"data":{"name":"price"},
   "mark":{"type":"line","color":"#1a1a1a","strokeWidth":1.9},
   "encoding":{
    "y":{"field":"v","type":"quantitative","scale":{"domain":[200,696],"nice":false,"zero":false},
     "axis":{"orient":"left","title":null,"domain":false,"offset":-5,"tickSize":5,"tickColor":"#777777","labelColor":"#555555","labelFont":"Liberation Sans","labelFontSize":12,"labelPadding":3,"labelOverlap":false,
      "values":[200,210,220,230,240,250,260,270,280,290,300,310,320,330,340,350,360,370,380,390,400,410,420,430,440,450,460,470,480,490,500,510,520,530,540,550,560,570,580,590,600,610,620,630,640,650,660,670,680,690],
      "labelExpr":"datum.value % 20 == 0 && datum.value > 200 ? datum.label : ''",
      "tickOpacity":{"condition":{"test":"datum.value % 20 == 0","value":1},"value":0},
      "grid":true,"gridColor":"#d9d9d9","gridWidth":1,
      "gridOpacity":{"condition":{"test":"datum.value % 50 == 0 && datum.value > 200","value":1},"value":0}}}
   }},
  {"data":{"name":"last"},
   "mark":{"type":"point","shape":"M-1,0L-0.8,-0.3L1,-0.3L1,0.3L-0.8,0.3Z","size":1849,"filled":true,"fill":"#cfcfcf","stroke":"#444444","strokeWidth":1,"opacity":1,"xOffset":25.5},
   "encoding":{
    "y":{"field":"v","type":"quantitative","scale":{"domain":[200,696],"nice":false,"zero":false},
     "axis":{"orient":"right","title":null,"domain":false,"offset":-4,"tickSize":4,"tickColor":"#777777","labelColor":"#555555","labelFont":"Liberation Sans","labelFontSize":12,"labelPadding":2,"labelOverlap":false,"grid":false,
      "values":[200,210,220,230,240,250,260,270,280,290,300,310,320,330,340,350,360,370,380,390,400,410,420,430,440,450,460,470,480,490,500,510,520,530,540,550,560,570,580,590,600,610,620,630,640,650,660,670,680,690],
      "labelExpr":"datum.value % 20 == 0 && datum.value > 200 && datum.value != 640 ? datum.label : ''",
      "tickOpacity":{"condition":{"test":"datum.value % 20 == 0","value":1},"value":0}}}
   }},
  {"data":{"name":"last"},
   "mark":{"type":"text","align":"left","baseline":"middle","dx":7,"font":"Liberation Sans","fontSize":12,"color":"#222222"},
   "encoding":{
    "y":{"field":"v","type":"quantitative","scale":{"domain":[200,696],"nice":false,"zero":false},"axis":null},
    "text":{"field":"v","type":"quantitative","format":".1f"}
   }}
 ]}
],
"resolve":{"axis":{"y":"independent"}}
}
